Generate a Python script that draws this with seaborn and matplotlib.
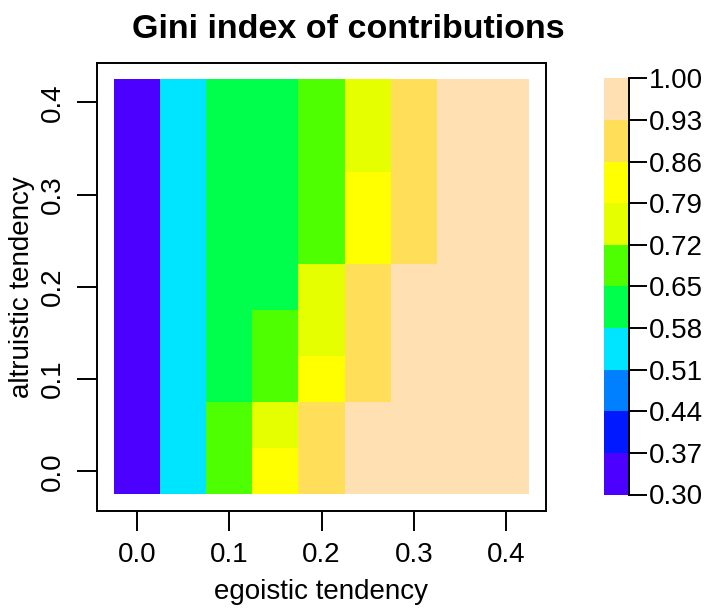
import matplotlib
matplotlib.use("Agg")
import matplotlib.pyplot as plt
from matplotlib.colors import ListedColormap, BoundaryNorm
import pandas as pd
import seaborn as sns

# Grid of tendencies (9 x 9)
egoistic = [0.00, 0.05, 0.10, 0.15, 0.20, 0.25, 0.30, 0.35, 0.40]
altruistic = [0.00, 0.05, 0.10, 0.15, 0.20, 0.25, 0.30, 0.35, 0.40]

# Gini index of contributions; one row per altruistic level (ascending),
# one column per egoistic level (ascending)
gini = [
    [0.33, 0.55, 0.68, 0.82, 0.90, 0.97, 0.97, 0.97, 0.97],
    [0.33, 0.55, 0.68, 0.75, 0.90, 0.97, 0.97, 0.97, 0.97],
    [0.33, 0.55, 0.62, 0.68, 0.82, 0.90, 0.97, 0.97, 0.97],
    [0.33, 0.55, 0.62, 0.68, 0.75, 0.90, 0.97, 0.97, 0.97],
    [0.33, 0.55, 0.62, 0.62, 0.75, 0.90, 0.97, 0.97, 0.97],
    [0.33, 0.55, 0.62, 0.62, 0.68, 0.82, 0.90, 0.97, 0.97],
    [0.33, 0.55, 0.62, 0.62, 0.68, 0.82, 0.90, 0.97, 0.97],
    [0.33, 0.55, 0.62, 0.62, 0.68, 0.75, 0.90, 0.97, 0.97],
    [0.33, 0.55, 0.62, 0.62, 0.68, 0.75, 0.90, 0.97, 0.97],
]

# Contour levels and their fill colours
levels = [0.30, 0.37, 0.44, 0.51, 0.58, 0.65, 0.72, 0.79, 0.86, 0.93, 1.00]
level_colors = ["#4C00FF", "#0019FF", "#0080FF", "#00E5FF", "#00FF4D",
                "#4DFF00", "#E6FF00", "#FFFF00", "#FFDE59", "#FFE0B3"]

axis_ticks = [0.0, 0.1, 0.2, 0.3, 0.4]
axis_tick_labels = ["0.0", "0.1", "0.2", "0.3", "0.4"]

sns.set_theme(style="white")
plt.rcParams["font.family"] = ["Liberation Sans", "DejaVu Sans"]
plt.rcParams["text.color"] = "black"

W, H = 713, 613
fig = plt.figure(figsize=(W / 100, H / 100), dpi=100)
ax = fig.add_axes([97 / W, 1 - 511 / H, (546 - 97) / W, (511 - 62.7) / H])
cax = fig.add_axes([604 / W, 1 - 494.5 / H, (628.5 - 604) / W, (494.5 - 78.3) / H])

df = pd.DataFrame(gini, index=altruistic, columns=egoistic).iloc[::-1]
cmap = ListedColormap(level_colors)
norm = BoundaryNorm(levels, cmap.N)

sns.heatmap(df, ax=ax, cmap=cmap, norm=norm, cbar_ax=cax,
            cbar_kws=dict(ticks=levels))

# Axis scaling: cell i spans [i, i+1]; tendency t sits at t/0.05 + 0.5
step = 0.05
n = len(egoistic)
pad = 0.04 * n
ax.set_xlim(-pad, n + pad)
ax.set_ylim(n + pad, -pad)
xpos = [t / step + 0.5 for t in axis_ticks]
ypos = [n - (t / step + 0.5) for t in axis_ticks]
ax.set_xticks(xpos)
ax.set_xticklabels(axis_tick_labels, rotation=0)
ax.set_yticks(ypos)
ax.set_yticklabels(axis_tick_labels, rotation=90, va="center")
ax.set_xlabel("")
ax.set_ylabel("")

for s in ax.spines.values():
    s.set_visible(True)
    s.set_color("black")
    s.set_linewidth(1.4)
ax.tick_params(axis="both", direction="out", bottom=True, left=True,
               length=14.5, width=1.4, color="black", pad=8,
               labelsize=20, labelcolor="black")

# Colour key
cbar = ax.collections[0].colorbar
cbar.set_ticks(levels)
cbar.set_ticklabels([f"{v:.2f}" for v in levels])
cbar.outline.set_visible(False)
cax.spines["right"].set_visible(True)
cax.spines["right"].set_color("black")
cax.spines["right"].set_linewidth(1.4)
cax.tick_params(axis="y", direction="out", right=True, length=13,
                width=1.4, color="black", pad=2, labelsize=20,
                labelcolor="black")

fig.text(348 / W, 1 - 29 / H, "Gini index of contributions",
         ha="center", va="center", fontsize=24.5, fontweight="bold",
         color="black")
fig.text(321 / W, 1 - 592 / H, "egoistic tendency",
         ha="center", va="center", fontsize=20, color="black")
fig.text(22 / W, 1 - 287 / H, "altruistic tendency",
         ha="center", va="center", fontsize=20, rotation=90, color="black")

fig.savefig("out.png", dpi=100)
